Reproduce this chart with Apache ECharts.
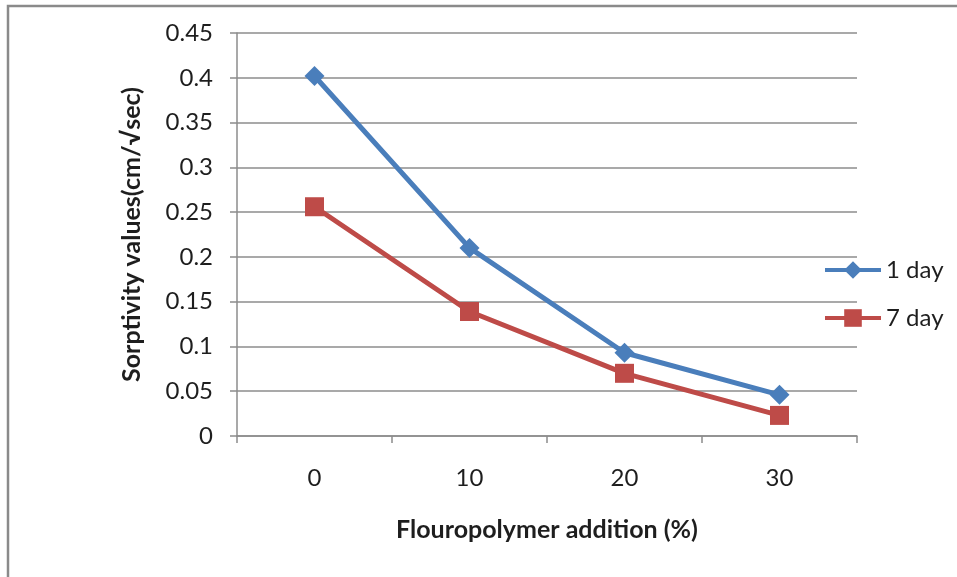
<!DOCTYPE html>
<html>
<head>
<meta charset="utf-8">
<script src="https://cdn.jsdelivr.net/npm/echarts@6/dist/echarts.min.js"></script>
<style>
  html, body { margin: 0; padding: 0; background: #fff; }
  #chart { width: 957px; height: 577px; }
</style>
</head>
<body>
<div id="chart"></div>
<script>
// Fluoropolymer content (%) on the category axis
const categories = ['0', '10', '20', '30'];
// Sorptivity after 1 day and 7 days of curing
const oneDay = [0.402, 0.21, 0.093, 0.046];
const sevenDay = [0.256, 0.139, 0.07, 0.023];
const seriesNames = ['1 day', '7 day'];
const xTitle = 'Flouropolymer addition (%)';
const yTitle = 'Sorptivity values(cm/√sec)';

const font = 'Lato, "Open Sans", sans-serif';
const gridColor = '#8c8c8c';
const textColor = '#1e1e1e';

const chart = echarts.init(document.getElementById('chart'), null, { renderer: 'canvas' });
chart.setOption({
  animation: false,
  backgroundColor: '#fff',
  graphic: [{
    type: 'polyline',
    shape: { points: [[8, 577], [8, 6], [957, 6]] },
    style: { stroke: '#8a8a8a', lineWidth: 2.5, fill: null }
  }],
  grid: { left: 237, right: 100, top: 33, bottom: 141 },
  legend: {
    orient: 'vertical',
    left: 818,
    top: 253,
    itemWidth: 56,
    itemHeight: 22,
    itemGap: 24,
    lineStyle: { width: 4 },
    textStyle: { fontFamily: font, fontSize: 24, lineHeight: 24, color: textColor },
    data: seriesNames
  },
  xAxis: {
    type: 'category',
    data: categories,
    boundaryGap: true,
    name: xTitle,
    nameLocation: 'middle',
    nameGap: 81,
    nameTextStyle: { fontFamily: font, fontSize: 25, fontWeight: 'bold', color: textColor },
    axisLine: { lineStyle: { color: gridColor, width: 1.5 } },
    axisTick: { show: true, length: 7, alignWithLabel: false, lineStyle: { color: gridColor, width: 1.5 } },
    axisLabel: { fontFamily: font, fontSize: 24, color: textColor, margin: 30 }
  },
  yAxis: {
    type: 'value',
    min: 0,
    max: 0.45,
    interval: 0.05,
    name: yTitle,
    nameLocation: 'middle',
    nameGap: 93,
    nameTextStyle: { fontFamily: font, fontSize: 25, fontWeight: 'bold', color: textColor },
    axisLine: { show: true, lineStyle: { color: gridColor, width: 1.5 } },
    axisTick: { show: true, length: 7, lineStyle: { color: gridColor, width: 1.5 } },
    axisLabel: {
      fontFamily: font, fontSize: 24, color: textColor, margin: 24,
      formatter: v => String(parseFloat(v.toFixed(2)))
    },
    splitLine: { show: true, lineStyle: { color: gridColor, width: 1.5 } }
  },
  series: [
    {
      name: seriesNames[0],
      type: 'line',
      data: oneDay,
      symbol: 'diamond',
      symbolSize: 20,
      itemStyle: { color: '#4a7ebb' },
      lineStyle: { color: '#4a7ebb', width: 5 }
    },
    {
      name: seriesNames[1],
      type: 'line',
      data: sevenDay,
      symbol: 'rect',
      symbolSize: 19,
      itemStyle: { color: '#be4b48' },
      lineStyle: { color: '#be4b48', width: 5 }
    }
  ]
});
</script>
</body>
</html>
